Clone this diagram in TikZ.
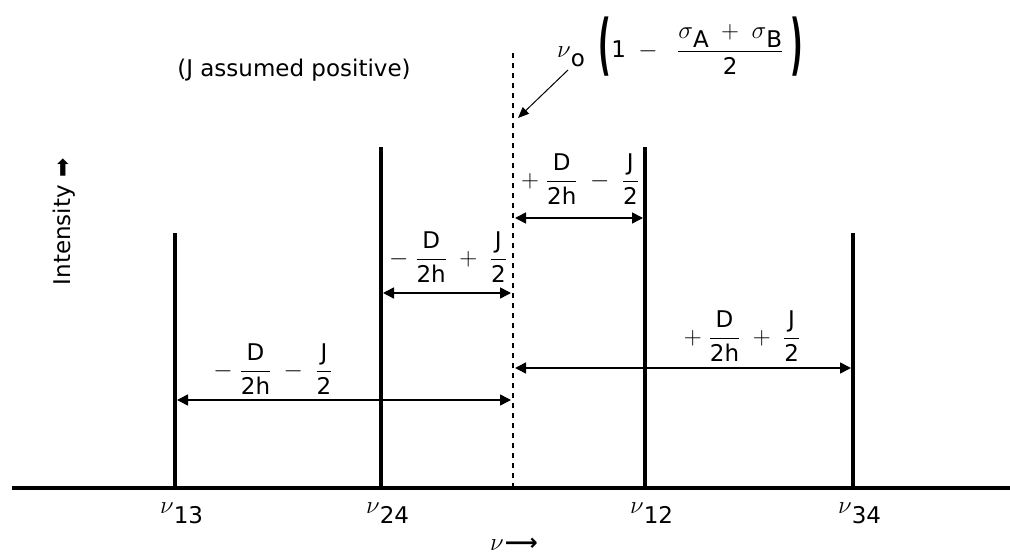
\documentclass[tikz,border=0pt]{standalone}
\usepackage{amsmath}
\usepackage{graphicx}
\usepackage{fontspec}
\setmainfont{DejaVu Sans}
\usetikzlibrary{arrows.meta}
\newcommand{\lowsub}[1]{\raisebox{-0.4em}{#1}}
\newcommand{\tallpar}[1]{\raisebox{-0.45em}{\scalebox{1.2}[2.9]{\bfseries #1}}}

\begin{document}
\begin{tikzpicture}[x=1pt,y=-1pt,
    spec/.style={line width=4pt},
    gap/.style={{Triangle[length=11pt,width=11pt]}-{Triangle[length=11pt,width=11pt]}, line width=1.6pt},
    lab/.style={font=\fontsize{23}{27}\selectfont}]
  \useasboundingbox (0,0) rectangle (1010,556);
  % frequency axis
  \coordinate (ax0) at (12,488);
  \coordinate (ax1) at (1010,488);
  \draw[line width=4pt] (ax0) -- (ax1);
  % the four lines
  \foreach \x/\top/\nm in {175/233/13, 381/147/24, 645/147/12, 853/233/34} {
    \coordinate (b\nm) at (\x,488);
    \coordinate (t\nm) at (\x,\top);
    \draw[spec] (b\nm) -- (t\nm);
    \node[lab, anchor=north west, inner sep=0pt] (n\nm) at (\x-15,503) {$\nu$\lowsub{\nm}};
  }
  % centre of the spectrum
  \coordinate (c0) at (513,488);
  \coordinate (c1) at (513,53);
  \draw[line width=2pt, dash pattern=on 5pt off 5pt] (c0) -- (c1);
  \node[lab, inner sep=0pt] (centre) at (680,47)
    {$\nu\lowsub{o}\;\;\tallpar{(}\mathrm{1}\;-\;\;\dfrac{\sigma\lowsub{A}\;+\;\sigma\lowsub{B}}{\mathrm{2}}\;\tallpar{)}$};
  \coordinate (p0) at (568,70);
  \coordinate (p1) at (518,118);
  \draw[-{Triangle[length=11pt,width=9pt]}, line width=1pt] (p0) -- (p1);
  \node[lab] (sign) at (294,70) {(J assumed positive)};
  \node[lab, rotate=90] (yax) at (64,222) {Intensity ➡};
  \node[lab, inner sep=0pt] (xax) at (514,544) {$\nu$\kern1pt{\bfseries ⟶}};
  % splittings
  \coordinate (h24) at (383,293);  \coordinate (k24) at (511,293);
  \coordinate (h12) at (643,218);  \coordinate (k12) at (515,218);
  \coordinate (h13) at (177,400);  \coordinate (k13) at (511,400);
  \coordinate (h34) at (851,368);  \coordinate (k34) at (515,368);
  \draw[gap] (h24) -- (k24);
  \draw[gap] (k12) -- (h12);
  \draw[gap] (h13) -- (k13);
  \draw[gap] (k34) -- (h34);
  \node[lab] (s24) at (448,257) {$\mathord{-}\;\dfrac{\mathrm{D}}{\mathrm{2h}}\;+\;\dfrac{\mathrm{J}}{\mathrm{2}}$};
  \node[lab] (s12) at (580,179) {$\mathord{+}\;\dfrac{\mathrm{D}}{\mathrm{2h}}\;-\;\dfrac{\mathrm{J}}{\mathrm{2}}$};
  \node[lab] (s13) at (273,369) {$\mathord{-}\;\dfrac{\mathrm{D}}{\mathrm{2h}}\;-\;\dfrac{\mathrm{J}}{\mathrm{2}}$};
  \node[lab] (s34) at (742,336) {$\mathord{+}\;\dfrac{\mathrm{D}}{\mathrm{2h}}\;+\;\dfrac{\mathrm{J}}{\mathrm{2}}$};
\end{tikzpicture}
\end{document}
